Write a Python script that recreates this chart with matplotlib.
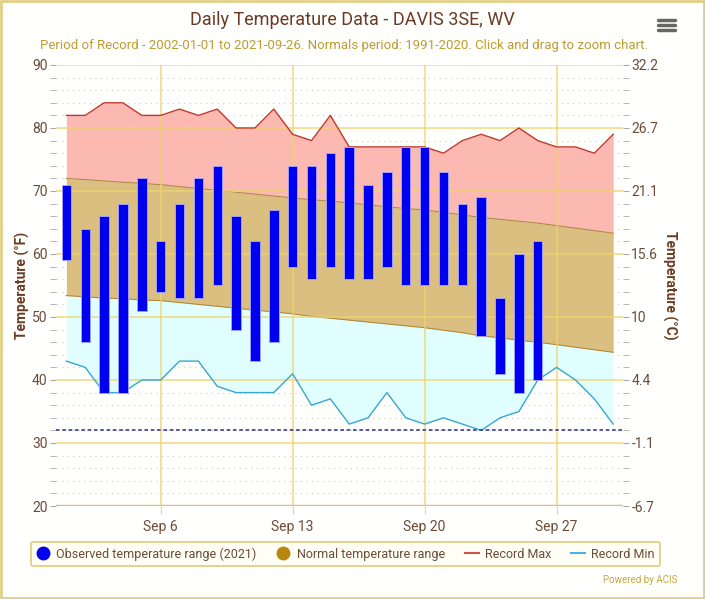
import matplotlib
matplotlib.use('Agg')
import matplotlib.pyplot as plt
from matplotlib.lines import Line2D
from matplotlib.patches import FancyBboxPatch

plt.rcParams['font.family'] = ['Roboto', 'DejaVu Sans']

# data, Sep 2021 (day of month)
days = list(range(1, 31))
obs_days = list(range(1, 27))
obs_hi = [71, 64, 66, 68, 72, 62, 68, 72, 74, 66, 62, 67, 74, 74, 76, 77, 71, 73, 77, 77, 73, 68, 69, 53, 60, 62]
obs_lo = [59, 46, 38, 38, 51, 54, 53, 53, 55, 48, 43, 46, 58, 56, 58, 56, 56, 58, 55, 55, 55, 55, 47, 41, 38, 40]
norm_hi = [72.0, 71.8, 71.6, 71.4, 71.2, 71.0, 70.7, 70.4, 70.1, 69.8, 69.5, 69.2, 68.9, 68.6, 68.4,
           68.1, 67.8, 67.5, 67.2, 67.0, 66.6, 66.2, 65.8, 65.5, 65.2, 64.9, 64.5, 64.1, 63.7, 63.3]
norm_lo = [53.4, 53.2, 53.0, 52.9, 52.7, 52.6, 52.3, 52.0, 51.7, 51.4, 51.1, 50.8, 50.5, 50.1, 49.8,
           49.5, 49.2, 48.9, 48.6, 48.3, 47.9, 47.5, 47.0, 46.7, 46.3, 46.0, 45.6, 45.2, 44.8, 44.4]
rec_max = [82, 82, 84, 84, 82, 82, 83, 82, 83, 80, 80, 83, 79, 78, 82,
           77, 77, 77, 77, 77, 76, 78, 79, 78, 80, 78, 77, 77, 76, 79]
rec_min = [43, 42, 38, 38, 40, 40, 43, 43, 39, 38, 38, 38, 41, 36, 37,
           33, 34, 38, 34, 33, 34, 33, 32, 34, 35, 40, 42, 40, 37, 33]
freeze = 32

week_days = [6, 13, 20, 27]
week_labels = ['Sep 6', 'Sep 13', 'Sep 20', 'Sep 27']
f_ticks = [20, 30, 40, 50, 60, 70, 80, 90]
c_labels = ['-6.7', '-1.1', '4.4', '10', '15.6', '21.1', '26.7', '32.2']

brown = '#6b4a3a'
gold = '#f0d36a'

fig = plt.figure(figsize=(7.05, 5.99), dpi=100)
fig.patch.set_facecolor('#fffffd')
ax = fig.add_axes([56 / 705, 1 - 506 / 599, 567 / 705, 441 / 599])
ax.set_facecolor('none')

# minor dotted grid (behind fills)
for f in range(22, 90, 2):
    if f % 10:
        ax.axhline(f, color='#cccccc', lw=0.8, ls=(0, (1, 4)), zorder=0)

ax.fill_between(days, norm_hi, rec_max, color='#fbb9b1', lw=0, zorder=1)
ax.fill_between(days, norm_lo, norm_hi, color='#dbbf80', lw=0, zorder=1)
ax.fill_between(days, rec_min, norm_lo, color='#e0fefe', lw=0, zorder=1)
ax.plot(days, norm_hi, color='#b08a40', lw=0.8, zorder=2)
ax.plot(days, norm_lo, color='#b08a40', lw=0.8, zorder=2)

# major grid over the fills
for f in f_ticks[1:]:
    ax.axhline(f, color=gold, lw=1.2, alpha=0.8, zorder=2.5)
for d in week_days:
    ax.axvline(d, color=gold, lw=1.2, alpha=0.8, zorder=2.5)
ax.axhline(20, color='#d8c27a', lw=2.5, zorder=2.5)

ax.plot(days, rec_max, color='#c0392b', lw=1, zorder=3)
ax.plot(days, rec_min, color='#3aa6d0', lw=1, zorder=3)
ax.axhline(freeze, color='#4a4a9a', lw=1.3, ls=(0, (2, 1.5)), zorder=3)

heights = [h - l for h, l in zip(obs_hi, obs_lo)]
ax.bar(obs_days, heights, bottom=obs_lo, width=0.5, color='#0000f0',
       edgecolor='#a0a0ff', linewidth=0.7, zorder=4)

ax.set_xlim(0.45, 30.52)
ax.set_ylim(20, 90)
for s in ax.spines.values():
    s.set_visible(False)

ax.set_yticks(f_ticks)
ax.set_yticks(range(20, 91, 2), minor=True)
ax.tick_params(axis='y', which='both', length=4, color='#aaaaaa', labelcolor=brown, labelsize=10, pad=2)
ax.set_xticks(week_days)
ax.set_xticklabels(week_labels)
ax.tick_params(axis='x', length=6, color='#c8d8ea', labelcolor=brown, labelsize=10, pad=4)
ax.set_ylabel('Temperature (°F)', color='#6b3a22', fontsize=10, fontweight='bold', va='center')
ax.yaxis.set_label_coords(-34 / 567, 0.5)

ax2 = ax.twinx()
ax2.set_ylim(20, 90)
ax2.set_yticks(f_ticks)
ax2.set_yticklabels(c_labels)
ax2.set_yticks(range(20, 91, 2), minor=True)
ax2.tick_params(axis='y', which='both', length=4, color='#aaaaaa', labelcolor=brown, labelsize=10, pad=2)
for s in ax2.spines.values():
    s.set_visible(False)
ax2.set_ylabel('Temperature (°C)', color='#6b3a22', fontsize=10, fontweight='bold', rotation=270,
               va='center')
ax2.yaxis.set_label_coords(614 / 567, 0.5)

fig.text(352 / 705, 1 - 20 / 599, 'Daily Temperature Data - DAVIS 3SE, WV', ha='center', va='center',
         fontsize=13, color='#6b3a26')
fig.text(344 / 705, 1 - 45 / 599,
         'Period of Record - 2002-01-01 to 2021-09-26. Normals period: 1991-2020. Click and drag to zoom chart.',
         ha='center', va='center', fontsize=9.5, color='#bf9b30')

handles = [
    Line2D([], [], marker='o', ls='none', color='#0000f0', markersize=9),
    Line2D([], [], marker='o', ls='none', color='#b8860b', markersize=9),
    Line2D([], [], color='#d05050', lw=1.5),
    Line2D([], [], color='#50b0e0', lw=1.5),
]
labels = ['Observed temperature range (2021)', 'Normal temperature range', 'Record Max', 'Record Min']
leg = fig.legend(handles, labels, loc='center', bbox_to_anchor=(345.5 / 705, 1 - 554 / 599), ncol=4,
                 fontsize=9, handlelength=1.1, handletextpad=0.5, columnspacing=1.6,
                 frameon=True, fancybox=True, borderpad=0.45)
leg.get_frame().set_edgecolor('#d9be5f')
leg.get_frame().set_facecolor('#fffff5')
leg.get_frame().set_linewidth(1.2)
for t in leg.get_texts():
    t.set_color(brown)

fig.text(677 / 705, 1 - 580 / 599, 'Powered by ACIS', ha='right', va='center', fontsize=7, color='#c9a640')

# menu icon
for yy in [20, 25, 30]:
    fig.add_artist(Line2D([658 / 705, 675 / 705], [1 - yy / 599, 1 - yy / 599], color='#666666',
                          lw=2.5, solid_capstyle='round'))

# chart border
fig.add_artist(FancyBboxPatch((0.002, 0.002), 0.996, 0.996, boxstyle='square,pad=0',
                              transform=fig.transFigure, fill=False, edgecolor='#e2cf86', lw=2))

fig.savefig('out.png', dpi=100, facecolor=fig.get_facecolor())
